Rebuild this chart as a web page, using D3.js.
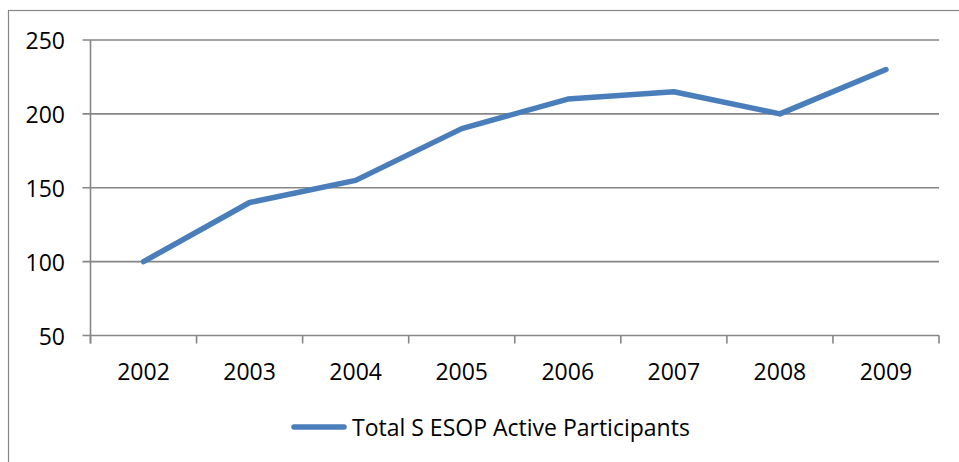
<!DOCTYPE html>
<html>
<head>
<meta charset="utf-8">
<script src="https://cdn.jsdelivr.net/npm/d3@7"></script>
<style>
  body { margin: 0; background: #fff; }
  svg text { font-family: "Open Sans", sans-serif; fill: #000; }
</style>
</head>
<body>
<svg id="chart" width="959" height="462"></svg>
<script>
// data
const years = ["2002", "2003", "2004", "2005", "2006", "2007", "2008", "2009"];
const participants = [100, 140, 155, 190, 210, 215, 200, 230];
const yTicks = [50, 100, 150, 200, 250];
const seriesName = "Total S ESOP Active Participants";

const svg = d3.select("#chart");
const gridColor = "#868686";
const lineColor = "#4a7ebb";

// outer chart border (runs off the right and bottom edge)
svg.append("rect")
  .attr("x", 8.5).attr("y", 10.5)
  .attr("width", 1000).attr("height", 500)
  .attr("fill", "none").attr("stroke", gridColor).attr("stroke-width", 1.2);

const plotLeft = 90.5, plotRight = 939, plotTop = 40, plotBottom = 335.5;

const x = d3.scaleBand().domain(years).range([plotLeft, plotRight]);
const y = d3.scaleLinear().domain([50, 250]).range([plotBottom, plotTop]);

// horizontal gridlines + y ticks
svg.append("g")
  .selectAll("line")
  .data(yTicks)
  .join("line")
  .attr("x1", plotLeft - 8).attr("x2", plotRight)
  .attr("y1", d => y(d)).attr("y2", d => y(d))
  .attr("stroke", gridColor).attr("stroke-width", 1.6);

svg.append("g")
  .selectAll("text")
  .data(yTicks)
  .join("text")
  .attr("x", 65).attr("y", d => y(d))
  .attr("text-anchor", "end")
  .attr("dominant-baseline", "central")
  .style("font-size", "23px")
  .text(d => d);

// y axis line
svg.append("line")
  .attr("x1", plotLeft).attr("x2", plotLeft)
  .attr("y1", plotTop).attr("y2", plotBottom + 8)
  .attr("stroke", gridColor).attr("stroke-width", 1.6);

// x axis ticks between categories
const xTickPos = years.map(d => x(d)).concat([plotRight]);
svg.append("g")
  .selectAll("line")
  .data(xTickPos)
  .join("line")
  .attr("x1", d => d).attr("x2", d => d)
  .attr("y1", plotBottom).attr("y2", plotBottom + 8)
  .attr("stroke", gridColor).attr("stroke-width", 1.6);

svg.append("g")
  .selectAll("text")
  .data(years)
  .join("text")
  .attr("x", d => x(d) + x.bandwidth() / 2)
  .attr("y", 371)
  .attr("text-anchor", "middle")
  .attr("dominant-baseline", "central")
  .style("font-size", "23px")
  .text(d => d);

// the series line
const line = d3.line()
  .x((d, i) => x(years[i]) + x.bandwidth() / 2)
  .y(d => y(d));

svg.append("path")
  .datum(participants)
  .attr("d", line)
  .attr("fill", "none")
  .attr("stroke", lineColor)
  .attr("stroke-width", 5.5)
  .attr("stroke-linecap", "round")
  .attr("stroke-linejoin", "round");

// legend
svg.append("line")
  .attr("x1", 294).attr("x2", 344)
  .attr("y1", 427).attr("y2", 427)
  .attr("stroke", lineColor).attr("stroke-width", 5.5)
  .attr("stroke-linecap", "round");

const legendText = svg.append("text")
  .attr("x", 352).attr("y", 427)
  .attr("dominant-baseline", "central")
  .style("font-size", "23px")
  .text(seriesName);

// shrink the font until the label spans roughly what the reference shows
let fs = 23;
while (legendText.node().getComputedTextLength() > 340 && fs > 16) {
  fs -= 0.25;
  legendText.style("font-size", fs + "px");
}
</script>
</body>
</html>
